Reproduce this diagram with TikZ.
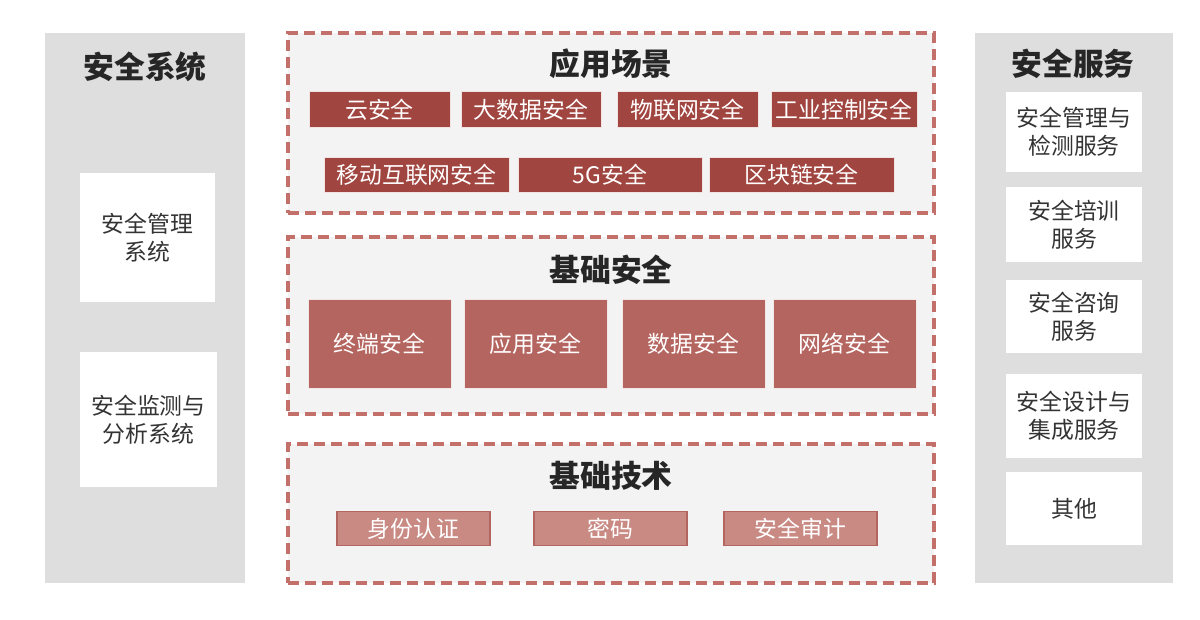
\documentclass[tikz,border=0pt]{standalone}
\usepackage{fontspec}
\setmainfont{Noto Sans CJK SC}
\definecolor{darkred}{HTML}{A0453F}
\definecolor{midred}{HTML}{B5655F}
\definecolor{lightred}{HTML}{C98A84}
\definecolor{dashred}{HTML}{C4706A}
\definecolor{panelgray}{HTML}{DEDEDE}
\definecolor{layerfill}{HTML}{F3F3F3}
\begin{document}
\begin{tikzpicture}[
  x=0.02cm, y=-0.02cm,
  side/.style={shape=rectangle,fill=panelgray,draw=none,minimum width=40mm,minimum height=110mm},
  layer/.style={shape=rectangle,fill=layerfill,draw=dashred,line width=1.8pt,dash pattern=on 2.2mm off 1.2mm,minimum width=129.2mm},
  title/.style={font=\fontsize{17.5}{20}\selectfont\bfseries,text=black!85},
  whitebox/.style={shape=rectangle,fill=white,align=center,font=\fontsize{13}{16}\selectfont,text=black!80,minimum width=27.2mm},
  scene/.style={shape=rectangle,fill=darkred,draw=white!85!darkred,text=white,font=\fontsize{13}{15}\selectfont,inner sep=1pt,minimum height=7.2mm},
  base/.style={shape=rectangle,fill=midred,draw=white!85!midred,text=white,font=\fontsize{13}{15}\selectfont,minimum width=28.6mm,minimum height=17.8mm},
  tech/.style={shape=rectangle,fill=lightred,draw=midred,line width=1pt,text=white,font=\fontsize{13}{15}\selectfont,minimum width=30.6mm,minimum height=6.8mm}
]
  \useasboundingbox (0,0) rectangle (1200,619);

  % left column
  \node[side] (system) at (145,308) {};
  \node[title] (systemTitle) at (145,67) {安全系统};
  \node[whitebox,minimum width=27mm,minimum height=25.8mm] (mgmtSys) at (147.5,237.5) {安全管理\\系统};
  \node[whitebox,minimum width=27.4mm,minimum height=27mm] (monitorSys) at (148.5,419.5) {安全监测与\\分析系统};

  % right column
  \node[side,minimum width=39.6mm] (service) at (1074,308) {};
  \node[title] (serviceTitle) at (1073,64) {安全服务};
  \node[whitebox,minimum height=16mm]   (mgmtSrv)    at (1074,132)   {安全管理与\\检测服务};
  \node[whitebox,minimum height=15mm]   (trainSrv)   at (1074,224.5) {安全培训\\服务};
  \node[whitebox,minimum height=14.6mm] (consultSrv) at (1074,316.5) {安全咨询\\服务};
  \node[whitebox,minimum height=16.8mm] (designSrv)  at (1074,416)   {安全设计与\\集成服务};
  \node[whitebox,minimum height=14.6mm] (otherSrv)   at (1074,508.5) {其他};

  % application scenarios
  \node[layer,minimum height=36mm] (scenes) at (611,123) {};
  \node[title] (scenesTitle) at (611,64) {应用场景};
  \node[scene,minimum width=28.2mm] (cloud)    at (379.5,109.5) {云安全};
  \node[scene,minimum width=28mm]   (bigdata)  at (531,109.5)   {大数据安全};
  \node[scene,minimum width=28.2mm] (iot)      at (687.5,109.5) {物联网安全};
  \node[scene,minimum width=29.2mm] (ics)      at (844,109.5)   {工业控制安全};
  \node[scene,minimum width=37mm,minimum height=7mm]   (mobile) at (416.5,174.5) {移动互联网安全};
  \node[scene,minimum width=36.8mm,minimum height=7mm] (fiveG)  at (610,174.5)   {5G安全};
  \node[scene,minimum width=37mm,minimum height=7mm]   (chain)  at (801.5,174.5) {区块链安全};

  % basic security
  \node[layer,minimum height=35.4mm] (basesec) at (611,325.5) {};
  \node[title] (basesecTitle) at (611,270) {基础安全};
  \node[base] (terminal) at (379.5,343.5) {终端安全};
  \node[base] (appsec)   at (535.5,343.5) {应用安全};
  \node[base] (datasec)  at (693.5,343.5) {数据安全};
  \node[base] (netsec)   at (844.5,343.5) {网络安全};

  % basic technology
  \node[layer,minimum height=27.8mm] (basetech) at (611,513.5) {};
  \node[title] (basetechTitle) at (611,476) {基础技术};
  \node[tech] (auth)  at (413.5,528.5) {身份认证};
  \node[tech] (crypt) at (610.5,528.5) {密码};
  \node[tech] (audit) at (800.5,528.5) {安全审计};
\end{tikzpicture}
\end{document}
